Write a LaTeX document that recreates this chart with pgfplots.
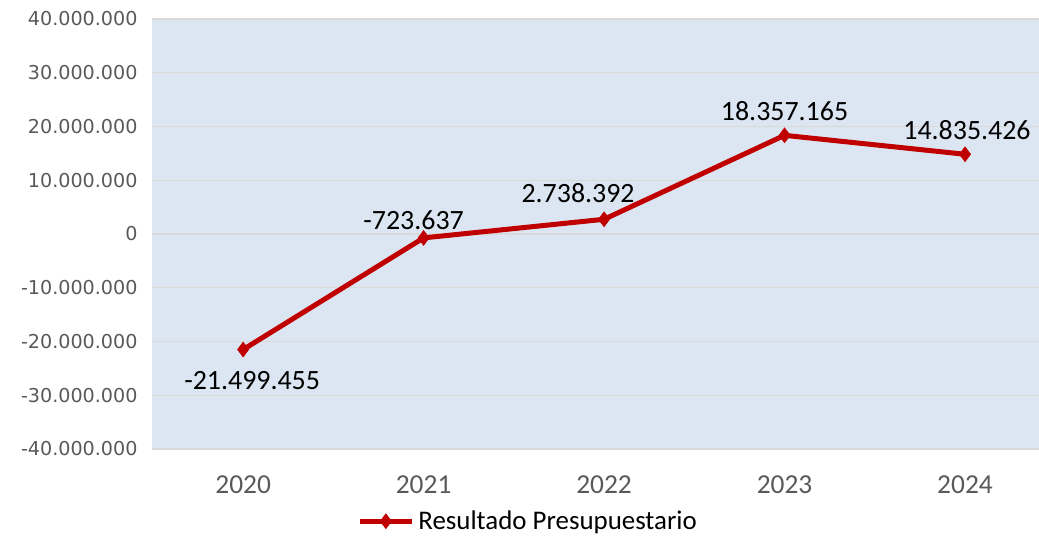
\documentclass[border=0pt]{standalone}
\usepackage{pgfplots}
\pgfplotsset{compat=1.18}
\usepackage{pgfplotstable}
\usepackage{fontspec}
\setmainfont{Carlito}
\newfontfamily\dejavu{DejaVu Sans}
\definecolor{bgblue}{HTML}{DCE6F2}
\definecolor{gridgray}{HTML}{D9D9D9}
\definecolor{linered}{HTML}{C00000}
\definecolor{ticktext}{HTML}{595959}
\pgfplotstableread{
x y dx dy label
0 -21499455 9 -31 -21.499.455
1 -723637 -10 18 -723.637
2 2738392 -26 26 2.738.392
3 18357165 0 24 18.357.165
4 14835426 2 24 14.835.426
}\datatable
\begin{document}
\begin{tikzpicture}
\begin{axis}[
  at={(0,0)}, anchor=south west,
  scale only axis,
  width=887bp, height=430bp,
  xmin=-0.505, xmax=4.41,
  ymin=-40000000, ymax=40000000,
  xtick={0,1,2,3,4},
  xticklabels={2020,2021,2022,2023,2024},
  ytick={-40000000,-30000000,-20000000,-10000000,0,10000000,20000000,30000000,40000000},
  scaled y ticks=false,
  yticklabel style={/pgf/number format/fixed, /pgf/number format/precision=0,
    /pgf/number format/1000 sep={.}, /pgf/number format/assume math mode=true},
  yticklabel style={font=\dejavu\fontsize{19.2}{21}\selectfont, text=ticktext},
  xticklabel style={font=\fontsize{27.5}{29}\selectfont, text=ticktext},
  tick style={draw=none},
  major tick length=0pt,
  ymajorgrids,
  major grid style={gridgray, line width=1.3bp},
  axis line style={draw=none},
  axis background/.style={fill=bgblue},
  xtick pos=left, ytick pos=left,
  every y tick label/.append style={xshift=-11bp},
  every x tick label/.append style={yshift=-23bp},
  clip=false,
  legend style={at={(0.424,-0.168)}, anchor=center, draw=none, fill=none,
    font=\fontsize{27}{29}\selectfont, legend cell align=left,
    inner sep=0pt, outer sep=0pt,
    /tikz/every odd column/.append style={column sep=2bp}},
  legend image code/.code={
    \draw[#1, line width=5bp] (0bp,0bp) -- (52bp,0bp);
    \draw[#1, mark=diamond*, mark size=7.5bp, line width=0bp] plot coordinates {(26bp,0bp)};
  },
]
\addplot[color=linered, line width=5bp, mark=diamond*, mark size=7.5bp,
  mark options={line width=0.5bp, fill=linered},
  point meta=explicit symbolic,
  visualization depends on={\thisrow{dx} \as \dx},
  visualization depends on={\thisrow{dy} \as \dy},
  nodes near coords,
  every node near coord/.append style={anchor=center, xshift=\dx bp, yshift=\dy bp,
    font=\fontsize{28}{30}\selectfont, text=black},
] table[x=x, y=y, meta=label] {\datatable};
\addlegendentry{Resultado Presupuestario}
\end{axis}
\pgfresetboundingbox
\path[use as bounding box] (-152bp,-89bp) rectangle (887bp,449bp);
\end{tikzpicture}
\end{document}
